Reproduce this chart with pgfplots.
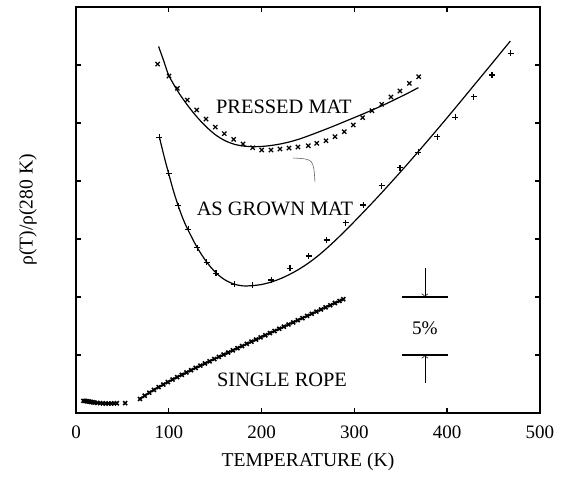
\documentclass[border=0pt]{standalone}
\usepackage{fontspec}
\setmainfont{Liberation Serif}
\usepackage{pgfplots}
\pgfplotsset{compat=1.18}

\begin{document}
\begin{tikzpicture}
\begin{axis}[
  scale only axis, width=232pt, height=203pt,
  xmin=0, xmax=500, ymin=0, ymax=0.35,
  xtick={0,100,200,300,400,500},
  ytick={0,0.05,0.1,0.15,0.2,0.25,0.3,0.35}, yticklabels={},
  tick align=inside, major tick length=2.4pt,
  axis line style={line width=1pt},
  tick style={line width=0.7pt, black},
  /pgf/number format/assume math mode=true,
  xticklabel style={font=\fontsize{9.5}{11}\selectfont, yshift=-3pt},
  xlabel={TEMPERATURE (K)}, ylabel={ρ(T)/ρ(280 K)},
  label style={font=\fontsize{9.8}{11}\selectfont},
  xlabel style={at={(axis description cs:0.5,-0.1207)}, anchor=center},
  ylabel style={at={(axis description cs:-0.1034,0.5)}, anchor=center},
  clip=false,
]
\coordinate (sw) at (rel axis cs:0,0);

% pressed mat: data
\addplot[only marks, mark=x, mark size=1.5pt, mark options={line width=0.6pt}] coordinates {
(88,0.3008) (100.2,0.2905) (109.2,0.2799) (119.9,0.2698) (130.1,0.2612)
(140.1,0.2534) (150.1,0.2465) (159.8,0.2408) (169.9,0.2359) (180,0.2319)
(190.4,0.2287) (200.1,0.2267) (210.1,0.2267) (219.8,0.2276) (229.5,0.2284)
(239.2,0.2293) (250.3,0.2304) (259.4,0.2325) (269.4,0.2347) (279.1,0.2382)
(289.1,0.2425) (298.8,0.2483) (308.9,0.2546) (319,0.2606) (329.4,0.2661)
(339.4,0.2724) (349.1,0.2776) (359.2,0.2842) (369.3,0.2899)};
% pressed mat: fit
\addplot[smooth, line width=0.6pt] coordinates {
(89,0.3160) (95,0.3025) (100,0.2910) (110,0.2770) (120,0.2655) (130,0.2555)
(140,0.2470) (150,0.2400) (160,0.2350) (170,0.2318) (180,0.2302) (190,0.2296)
(200,0.2298) (210,0.2306) (220,0.2319) (230,0.2337) (240,0.2360) (250,0.2388)
(260,0.2418) (270,0.2449) (280,0.2481) (290,0.2514) (300,0.2547) (310,0.2580)
(320,0.2615) (330,0.2650) (340,0.2688) (350,0.2727) (360,0.2767) (369,0.2805)};

% as grown mat: data
\addplot[only marks, mark=+, mark size=1.5pt, mark options={line width=0.6pt}] coordinates {
(89.8,0.2376) (99.9,0.2066) (110.2,0.1787) (121,0.1583) (130.7,0.1425)
(140.8,0.1299) (150.9,0.1204) (170.6,0.1109) (190.4,0.1101) (210.5,0.1146)
(230.6,0.1247) (250.7,0.1353) (270.1,0.1491) (290.6,0.1640) (309.6,0.1793)
(329.4,0.1959) (349.1,0.2114) (368.9,0.2247) (389.3,0.2382) (408.7,0.2549)
(428.6,0.2727) (448.3,0.2914) (468.4,0.3101)};
% as grown mat: fit
\addplot[smooth, line width=0.6pt] coordinates {
(89.8,0.2380) (95,0.2210) (100,0.2060) (105,0.1915) (110,0.1790) (115,0.1680)
(120,0.1590) (130,0.1435) (140,0.1310) (150,0.1215) (160,0.1150) (170,0.1112)
(180,0.1096) (190,0.1098) (200,0.1108) (210,0.1128) (220,0.1157) (230,0.1194)
(240,0.1238) (250,0.1290) (260,0.1350) (270,0.1418) (280,0.1492) (290,0.1570)
(300,0.1651) (310,0.1734) (320,0.1818) (330,0.1904) (340,0.1992) (350,0.2081)
(360,0.2172) (370,0.2264) (380,0.2357) (390,0.2451) (400,0.2546) (410,0.2642)
(420,0.2739) (430,0.2836) (440,0.2933) (450,0.3030) (460,0.3128) (468,0.3206)};

% single rope
\addplot[only marks, mark=x, mark size=1.4pt, mark options={line width=0.8pt}] coordinates {
(8,0.0105) (10,0.0104) (12,0.0101) (14,0.0099) (16,0.0095) (18,0.0093)
(20,0.0090) (23,0.0087) (26,0.0085) (29,0.0083) (32,0.0082) (35,0.0082)
(38,0.0082) (41,0.0083) (44,0.0084) (53,0.0085)};
\addplot[line width=0.9pt, mark=x, mark size=1.4pt, mark options={line width=0.8pt}] coordinates {
(69,0.0121) (74,0.0149) (79,0.0175) (84,0.0199) (89,0.0223) (94,0.0245)
(99,0.0267) (104,0.0288) (109,0.0309) (114,0.0329) (119,0.0349) (124,0.0369)
(129,0.0389) (134,0.0408) (139,0.0427) (144,0.0446) (149,0.0465) (154,0.0484)
(159,0.0503) (164,0.0521) (169,0.0540) (174,0.0559) (179,0.0577) (184,0.0596)
(189,0.0615) (194,0.0633) (199,0.0652) (204,0.0670) (209,0.0689) (214,0.0707)
(219,0.0726) (224,0.0744) (229,0.0763) (234,0.0781) (239,0.0800) (244,0.0818)
(249,0.0837) (254,0.0855) (259,0.0874) (264,0.0892) (269,0.0911) (274,0.0929)
(279,0.0948) (284,0.0966) (288,0.0981)};

% labels
\node[font=\fontsize{10.2}{12}\selectfont] at (axis cs:224,0.2638) {PRESSED MAT};
\node[font=\fontsize{10.2}{12}\selectfont] at (axis cs:214.4,0.1758) {AS GROWN MAT};
\node[font=\fontsize{10.2}{12}\selectfont] at (axis cs:222,0.0284) {SINGLE ROPE};
\draw[line width=0.3pt, black!60] (axis cs:234,0.2198) .. controls (axis cs:256,0.219) .. (axis cs:257.5,0.199);

% 5% scale bar
\draw[line width=0.55pt] (axis cs:351,0.1) -- (axis cs:401,0.1);
\draw[line width=0.55pt] (axis cs:351,0.05) -- (axis cs:401,0.05);
\draw[line width=0.35pt, -to] (axis cs:376,0.125) -- (axis cs:376,0.1);
\draw[line width=0.35pt, -to] (axis cs:376,0.026) -- (axis cs:376,0.05);
\node[font=\fontsize{9.6}{11}\selectfont] at (axis cs:376,0.0733) {5\%};
\end{axis}
\path (sw) ++(-38pt,-36.5pt) rectangle ++(283.5pt,243pt);
\end{tikzpicture}
\end{document}
